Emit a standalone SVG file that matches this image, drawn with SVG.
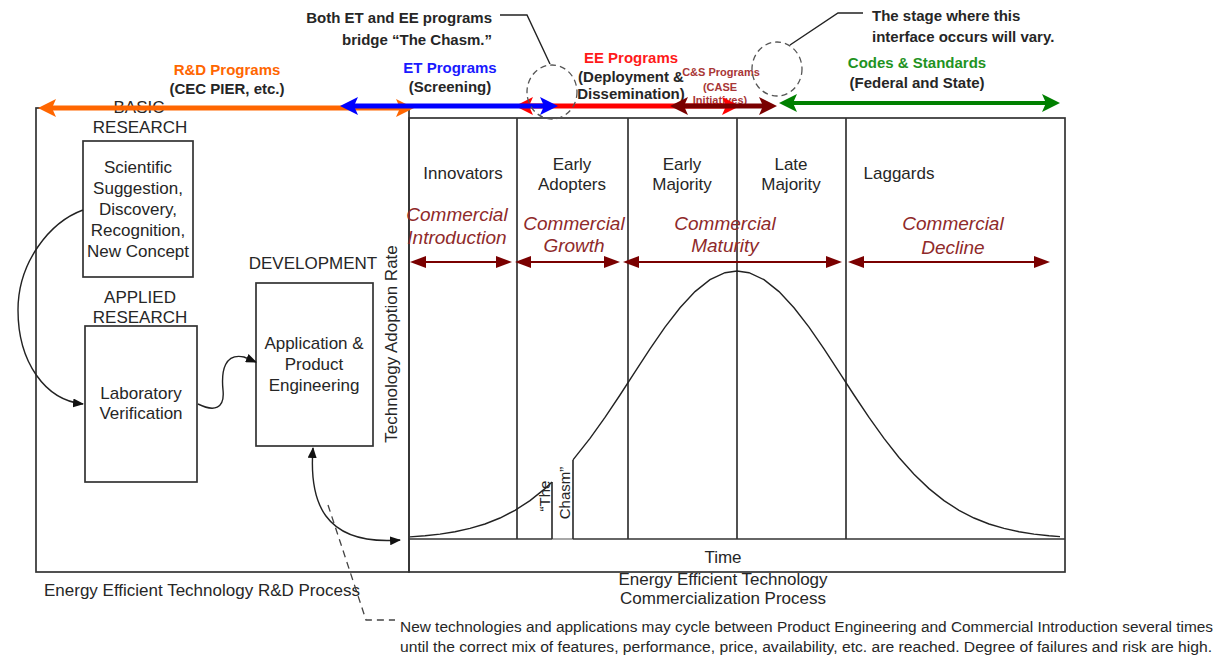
<svg xmlns="http://www.w3.org/2000/svg" width="1225" height="658" viewBox="0 0 1225 658">
<style>
text{font-family:"Liberation Sans",Arial,sans-serif;fill:#262626}
.r{font-size:17px}
.m{text-anchor:middle}
.b{font-size:15px;font-weight:bold}
.cs{font-size:11px;font-weight:bold;fill:#a83636;text-anchor:middle}
.it{font-size:19px;font-style:italic;fill:#8f2a2a;text-anchor:middle}
.box{fill:none;stroke:#333;stroke-width:1.7}
.grid{stroke:#333;stroke-width:1.7;fill:none}
.thin{fill:none;stroke:#222;stroke-width:1.4}
.dash{fill:none;stroke:#444;stroke-width:1.3;stroke-dasharray:7,5}
.note{font-size:14px}
</style>
<defs>
<marker id="mOr" viewBox="0 0 18 18" refX="8" refY="9" markerWidth="18" markerHeight="18" markerUnits="userSpaceOnUse" orient="auto-start-reverse"><path d="M0,0 L18,9 L0,18 L4,9 z" fill="#FF6600"/></marker>
<marker id="mBl" viewBox="0 0 18 18" refX="8" refY="9" markerWidth="18" markerHeight="18" markerUnits="userSpaceOnUse" orient="auto-start-reverse"><path d="M0,0 L18,9 L0,18 L4,9 z" fill="#0000FF"/></marker>
<marker id="mRd" viewBox="0 0 18 18" refX="8" refY="9" markerWidth="18" markerHeight="18" markerUnits="userSpaceOnUse" orient="auto-start-reverse"><path d="M0,0 L18,9 L0,18 L4,9 z" fill="#FF0000"/></marker>
<marker id="mDr" viewBox="0 0 18 18" refX="8" refY="9" markerWidth="18" markerHeight="18" markerUnits="userSpaceOnUse" orient="auto-start-reverse"><path d="M0,0 L18,9 L0,18 L4,9 z" fill="#7a0000"/></marker>
<marker id="mGr" viewBox="0 0 18 18" refX="8" refY="9" markerWidth="18" markerHeight="18" markerUnits="userSpaceOnUse" orient="auto-start-reverse"><path d="M0,0 L18,9 L0,18 L4,9 z" fill="#008000"/></marker>
<marker id="mCm" viewBox="0 0 16 12" refX="6" refY="6" markerWidth="16" markerHeight="12" markerUnits="userSpaceOnUse" orient="auto-start-reverse"><path d="M0,0 L16,6 L0,12 z" fill="#7a0000"/></marker>
<marker id="mBk" viewBox="0 0 11 9" refX="10" refY="4.5" markerWidth="11" markerHeight="9" markerUnits="userSpaceOnUse" orient="auto-start-reverse"><path d="M0,0 L11,4.5 L0,9 z" fill="#111"/></marker>
</defs>
<rect width="1225" height="658" fill="#fff"/>

<g id="rd-process">
<rect class="box" x="36" y="108" width="373" height="464"/>
<text class="r" x="44" y="596">Energy Efficient Technology R&amp;D Process</text>
</g>

<g id="basic-research">
<text class="r m" x="139" y="113">BASIC</text>
<text class="r m" x="140" y="133">RESEARCH</text>
<rect class="box" x="83" y="141" width="110" height="136"/>
<text class="r m" x="138" y="173">Scientific</text>
<text class="r m" x="138" y="194">Suggestion,</text>
<text class="r m" x="138" y="215">Discovery,</text>
<text class="r m" x="138" y="236">Recognition,</text>
<text class="r m" x="138" y="257">New Concept</text>
</g>

<g id="applied-research">
<text class="r m" x="140" y="303">APPLIED</text>
<text class="r m" x="140" y="323">RESEARCH</text>
<rect class="box" x="85" y="326" width="112" height="156"/>
<text class="r m" x="141" y="399">Laboratory</text>
<text class="r m" x="141" y="419">Verification</text>
</g>

<g id="development">
<text class="r m" x="313" y="269">DEVELOPMENT</text>
<rect class="box" x="256" y="283" width="117" height="163"/>
<text class="r m" x="314" y="349">Application &amp;</text>
<text class="r m" x="314" y="370">Product</text>
<text class="r m" x="314" y="391">Engineering</text>
</g>

<g id="commercialization">
<rect class="box" x="409" y="118" width="656" height="454"/>
<line class="grid" x1="517" y1="118" x2="517" y2="539"/>
<line class="grid" x1="628" y1="118" x2="628" y2="539"/>
<line class="grid" x1="737" y1="118" x2="737" y2="539"/>
<line class="grid" x1="846" y1="118" x2="846" y2="539"/>
<line class="grid" x1="409" y1="539" x2="552" y2="539"/>
<line x1="552" y1="539" x2="573" y2="539" stroke="#999" stroke-width="1.7"/>
<line class="grid" x1="573" y1="539" x2="1065" y2="539"/>
<line class="grid" x1="552" y1="482" x2="552" y2="539"/>
<line class="grid" x1="573" y1="460" x2="573" y2="539"/>
<polyline class="thin" points="410,536.9 425,535.8 440,534.1 455,531.7 470,528.4 485,524 500,518 515,510.3 530,500.6 545,488.6 552,482"/>
<polyline class="thin" points="573,459.9 590,438.4 605,417.4 620,395 635,371.8 650,348.9 665,327.1 680,307.7 695,291.6 710,279.7 725,272.7 737,271 749,272.7 764,279.7 779,291.6 794,307.7 809,327.1 824,348.9 839,371.8 854,395 869,417.4 884,438.4 899,457.5 914,474.3 929,488.6 944,500.6 959,510.3 974,518 989,524 1004,528.4 1019,531.7 1034,534.1 1049,535.8 1060,536.6"/>
<text class="r" transform="translate(397,344) rotate(-90)" text-anchor="middle">Technology Adoption Rate</text>
<text transform="translate(550,496) rotate(-90)" text-anchor="middle" font-size="15">“The</text>
<text transform="translate(570,493) rotate(-90)" text-anchor="middle" font-size="15">Chasm”</text>
<text class="r m" x="463" y="179">Innovators</text>
<text class="r m" x="572" y="170">Early</text>
<text class="r m" x="572" y="190">Adopters</text>
<text class="r m" x="682" y="170">Early</text>
<text class="r m" x="682" y="190">Majority</text>
<text class="r m" x="791" y="170">Late</text>
<text class="r m" x="791" y="190">Majority</text>
<text class="r m" x="899" y="179">Laggards</text>
<text class="it" x="457" y="221">Commercial</text>
<text class="it" x="457" y="244">Introduction</text>
<text class="it" x="574" y="230">Commercial</text>
<text class="it" x="574" y="252">Growth</text>
<text class="it" x="725" y="230">Commercial</text>
<text class="it" x="725" y="252">Maturity</text>
<text class="it" x="953" y="230">Commercial</text>
<text class="it" x="953" y="254">Decline</text>
<text class="r m" x="723" y="563">Time</text>
<text class="r m" x="723" y="585">Energy Efficient Technology</text>
<text class="r m" x="723" y="604">Commercialization Process</text>
</g>

<g id="program-labels">
<text class="b m" x="227" y="75" fill="#FF6600" style="fill:#FF6600">R&amp;D Programs</text>
<text class="b m" x="227" y="94">(CEC PIER, etc.)</text>
<text class="b m" x="450" y="73" style="fill:#1a1aff">ET Programs</text>
<text class="b m" x="450" y="92">(Screening)</text>
<text class="b m" x="631" y="63" style="fill:#ff1a1a">EE Programs</text>
<text class="b m" x="631" y="82">(Deployment &amp;</text>
<text class="b m" x="631" y="99">Dissemination)</text>
<text class="cs" x="721" y="76">C&amp;S Programs</text>
<text class="cs" x="720" y="91">(CASE</text>
<text class="cs" x="720" y="104">Initiatives)</text>
<text class="b m" x="917" y="68" style="fill:#1f931f">Codes &amp; Standards</text>
<text class="b m" x="917" y="88">(Federal and State)</text>
</g>

<g id="callouts">
<text class="b" x="492" y="23" text-anchor="end">Both ET and EE programs</text>
<text class="b" x="492" y="45" text-anchor="end">bridge “The Chasm.”</text>
<text class="b" x="872" y="21">The stage where this</text>
<text class="b" x="872" y="42">interface occurs will vary.</text>
<text class="note" x="400" y="632" textLength="813" lengthAdjust="spacingAndGlyphs">New technologies and applications may cycle between Product Engineering and Commercial Introduction several times</text>
<text class="note" x="400" y="652" textLength="812" lengthAdjust="spacingAndGlyphs">until the correct mix of features, performance, price, availability, etc. are reached. Degree of failures and risk are high.</text>
</g>

<g id="connectors">
<line x1="48" y1="108" x2="404" y2="108" stroke="#FF6600" stroke-width="5" marker-start="url(#mOr)" marker-end="url(#mOr)"/>
<line x1="525" y1="106" x2="730" y2="106" stroke="#FF0000" stroke-width="5" marker-start="url(#mRd)" marker-end="url(#mRd)"/>
<line x1="350" y1="106" x2="548" y2="106" stroke="#0000FF" stroke-width="5" marker-start="url(#mBl)" marker-end="url(#mBl)"/>
<line x1="680" y1="106" x2="767" y2="106" stroke="#7a0000" stroke-width="5" marker-start="url(#mDr)" marker-end="url(#mDr)"/>
<line x1="789" y1="103" x2="1050" y2="103" stroke="#008000" stroke-width="4" marker-start="url(#mGr)" marker-end="url(#mGr)"/>
<line x1="420" y1="262" x2="502" y2="262" stroke="#7a0000" stroke-width="2" marker-start="url(#mCm)" marker-end="url(#mCm)"/>
<line x1="525" y1="262" x2="610" y2="262" stroke="#7a0000" stroke-width="2" marker-start="url(#mCm)" marker-end="url(#mCm)"/>
<line x1="633" y1="262" x2="832" y2="262" stroke="#7a0000" stroke-width="2" marker-start="url(#mCm)" marker-end="url(#mCm)"/>
<line x1="858" y1="262" x2="1040" y2="262" stroke="#7a0000" stroke-width="2" marker-start="url(#mCm)" marker-end="url(#mCm)"/>
<ellipse cx="552" cy="92" rx="25" ry="27" fill="none" stroke="#555" stroke-width="1.3" stroke-dasharray="6,4"/>
<ellipse cx="777" cy="69" rx="25" ry="27" fill="none" stroke="#555" stroke-width="1.3" stroke-dasharray="6,4"/>
<polyline class="thin" points="500,15 527,15 550,64" stroke="#333"/>
<polyline class="thin" points="790,45 838,13 863,13" stroke="#333"/>
<path class="thin" d="M83,210 C50,222 18,262 18,310 C18,362 45,400 83,404" marker-end="url(#mBk)"/>
<path class="thin" d="M198,404 C214,412 225,409 223,390 C221,370 225,353 244,357 L256,362" marker-end="url(#mBk)"/>
<path class="thin" d="M313,448 C309,500 322,546 400,540" marker-start="url(#mBk)" marker-end="url(#mBk)"/>
<polyline class="dash" points="328,505 366,620 395,620"/>
</g>
</svg>
